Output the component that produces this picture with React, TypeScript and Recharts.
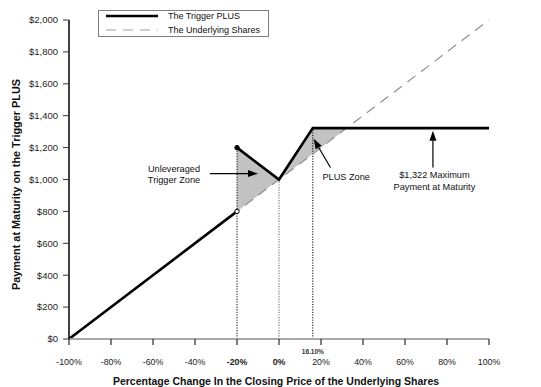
import React from 'react'
import {
  ComposedChart,
  Line,
  Area,
  XAxis,
  YAxis,
  ReferenceLine,
  ReferenceDot,
  Legend,
} from 'recharts'

const X_TICKS = [-100, -80, -60, -40, -20, 0, 20, 40, 60, 80, 100]
const Y_TICKS = [0, 200, 400, 600, 800, 1000, 1200, 1400, 1600, 1800, 2000]
const BOLD_TICKS = [-20, 0]

const underlyingShares = [
  { pct: -100, value: 0 },
  { pct: 100, value: 2000 },
]
const triggerBelow = [
  { pct: -100, value: 0 },
  { pct: -20, value: 800 },
]
const triggerAbove = [
  { pct: -20, value: 1200 },
  { pct: 0, value: 1000 },
  { pct: 16.1, value: 1322 },
  { pct: 100, value: 1322 },
]
const triggerZone = [
  { pct: -20, band: [800, 1200] },
  { pct: 0, band: [1000, 1000] },
]
const plusZone = [
  { pct: 0, band: [1000, 1000] },
  { pct: 16.1, band: [1161, 1322] },
  { pct: 32.2, band: [1322, 1322] },
]
const guides = [
  { pct: -20, top: 1200, color: '#000', width: 1 },
  { pct: 0, top: 1000, color: '#9a9a9a', width: 1.6 },
  { pct: 16.1, top: 1322, color: '#000', width: 1 },
]
const capLabel = { pct: 16.1, text: '16.10%' }

const notes = [
  { pct: -50, value: 1033, lines: ['Unleveraged', 'Trigger Zone'] },
  { pct: 32, value: 1018, lines: ['PLUS Zone'] },
  { pct: 74, value: 992, lines: ['$1,322 Maximum', 'Payment at Maturity'] },
]
const arrows = [
  { from: [-32.9, 1037], to: [-10, 1037] },
  { from: [24.5, 1075], to: [16.5, 1255] },
  { from: [73.3, 1075], to: [73.3, 1305] },
]
const legendItems = [
  { name: 'The Trigger PLUS', color: '#000', width: 2.6, dash: undefined },
  { name: 'The Underlying Shares', color: '#a0a0a0', width: 1.2, dash: '10 7' },
]

const money = (v: number) => '$' + v.toLocaleString('en-US')

function XTick({ x, y, payload }: any) {
  const bold = BOLD_TICKS.includes(payload.value)
  return (
    <text
      x={x}
      y={y + 18}
      textAnchor="middle"
      fontSize={8.8}
      fontWeight={bold ? 'bold' : 'normal'}
      fill="#222"
    >
      {payload.value + '%'}
    </text>
  )
}

function Arrow({ x1, y1, x2, y2 }: any) {
  const dx = x2 - x1
  const dy = y2 - y1
  const len = Math.hypot(dx, dy) || 1
  const ux = dx / len
  const uy = dy / len
  const bx = x2 - ux * 10
  const by = y2 - uy * 10
  const px = -uy * 3.5
  const py = ux * 3.5
  return (
    <g>
      <line x1={x1} y1={y1} x2={bx} y2={by} stroke="#000" strokeWidth={1.2} />
      <polygon
        points={`${x2},${y2} ${bx + px},${by + py} ${bx - px},${by - py}`}
        fill="#000"
      />
    </g>
  )
}

function NoteText({ cx, cy, lines }: any) {
  return (
    <text textAnchor="middle" fontSize={9.2} fill="#111">
      {lines.map((t: string, i: number) => (
        <tspan key={i} x={cx} y={cy + (i - (lines.length - 1) / 2) * 11.5 + 3.2}>
          {t}
        </tspan>
      ))}
    </text>
  )
}

function LegendBox() {
  return (
    <svg width={171} height={27} style={{ display: 'block' }}>
      <rect x={0.5} y={0.5} width={170} height={26} fill="#fff" stroke="#7f7f7f" />
      {legendItems.map((item, i) => (
        <g key={item.name}>
          <line
            x1={8}
            x2={60}
            y1={6 + i * 14}
            y2={6 + i * 14}
            stroke={item.color}
            strokeWidth={item.width}
            strokeDasharray={item.dash}
          />
          <text x={70} y={9.2 + i * 14} fontSize={9} fill="#111">
            {item.name}
          </text>
        </g>
      ))}
    </svg>
  )
}

export default function App() {
  return (
    <div
      style={{
        position: 'absolute',
        left: 0,
        top: 0,
        fontFamily: '"Liberation Sans", Arial, sans-serif',
        background: '#fff',
      }}
    >
      <ComposedChart width={541} height={387} margin={{ top: 20, right: 52, left: 0, bottom: 0 }}>
        <XAxis
          dataKey="pct"
          type="number"
          domain={[-100, 100]}
          ticks={X_TICKS}
          height={48}
          tickSize={6}
          axisLine={{ stroke: '#a8a8a8', strokeWidth: 2 }}
          tickLine={{ stroke: '#000' }}
          tick={<XTick />}
          interval={0}
          label={{
            content: ({ viewBox }: any) => (
              <text
                x={viewBox.x + viewBox.width / 2 - 3}
                y={viewBox.y + 46}
                textAnchor="middle"
                fontSize={10.5}
                fontWeight="bold"
                fill="#111"
              >
                Percentage Change In the Closing Price of the Underlying Shares
              </text>
            ),
          }}
        />
        <YAxis
          type="number"
          domain={[0, 2000]}
          ticks={Y_TICKS}
          width={69}
          tickSize={6}
          tickMargin={5}
          interval={0}
          axisLine={{ stroke: '#000', strokeWidth: 1.5 }}
          tickLine={{ stroke: '#333' }}
          tick={{ fontSize: 9.5, fill: '#222' }}
          tickFormatter={money}
          label={{
            content: ({ viewBox }: any) => {
              const cy = viewBox.y + viewBox.height / 2 + 5
              return (
                <text
                  x={16}
                  y={cy}
                  transform={`rotate(-90, 16, ${cy})`}
                  textAnchor="middle"
                  dominantBaseline="central"
                  fontSize={10.9}
                  fontWeight="bold"
                  fill="#111"
                >
                  Payment at Maturity on the Trigger PLUS
                </text>
              )
            },
          }}
        />
        <Legend
          layout="horizontal"
          verticalAlign="middle"
          align="center"
          wrapperStyle={{ position: 'absolute', left: 98, top: 10, width: 171, height: 27 }}
          content={() => <LegendBox />}
        />
        <Area
          data={triggerZone}
          dataKey="band"
          type="linear"
          stroke="none"
          fill="#c2c2c2"
          fillOpacity={1}
          isAnimationActive={false}
          legendType="none"
        />
        <Area
          data={plusZone}
          dataKey="band"
          type="linear"
          stroke="none"
          fill="#c2c2c2"
          fillOpacity={1}
          isAnimationActive={false}
          legendType="none"
        />
        {guides.map((g) => (
          <ReferenceLine
            key={g.pct}
            segment={[
              { x: g.pct, y: 0 },
              { x: g.pct, y: g.top },
            ]}
            stroke={g.color}
            strokeWidth={g.width}
            strokeDasharray="1.2 1.4"
          />
        ))}
        <Line
          data={underlyingShares}
          dataKey="value"
          type="linear"
          stroke="#8f8f8f"
          strokeWidth={1.2}
          strokeDasharray="10 7"
          dot={false}
          isAnimationActive={false}
        />
        <Line
          data={triggerBelow}
          dataKey="value"
          type="linear"
          stroke="#000"
          strokeWidth={2.6}
          dot={false}
          isAnimationActive={false}
        />
        <Line
          data={triggerAbove}
          dataKey="value"
          type="linear"
          stroke="#000"
          strokeWidth={2.6}
          dot={false}
          isAnimationActive={false}
        />
        <ReferenceDot
          x={triggerBelow[triggerBelow.length - 1].pct}
          y={triggerBelow[triggerBelow.length - 1].value}
          r={2.2}
          fill="#fff"
          stroke="#000"
          strokeWidth={1}
        />
        <ReferenceDot
          x={triggerAbove[0].pct}
          y={triggerAbove[0].value}
          r={2.2}
          fill="#000"
          stroke="#000"
        />
        {arrows.map((a, i) => (
          <ReferenceLine
            key={'arrow' + i}
            segment={[
              { x: a.from[0], y: a.from[1] },
              { x: a.to[0], y: a.to[1] },
            ]}
            shape={(p: any) => <Arrow {...p} />}
          />
        ))}
        {notes.map((n, i) => (
          <ReferenceDot
            key={'note' + i}
            x={n.pct}
            y={n.value}
            r={0}
            shape={(p: any) => <NoteText cx={p.cx} cy={p.cy} lines={n.lines} />}
          />
        ))}
        <ReferenceDot
          x={capLabel.pct}
          y={0}
          r={0}
          ifOverflow="visible"
          shape={(p: any) => (
            <text x={p.cx} y={p.cy + 15} textAnchor="middle" fontSize={6.5} fontWeight="bold" fill="#333">
              {capLabel.text}
            </text>
          )}
        />
      </ComposedChart>
    </div>
  )
}
